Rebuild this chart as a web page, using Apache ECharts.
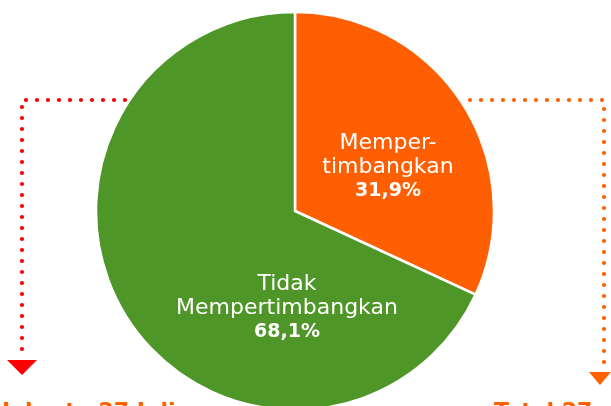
<!DOCTYPE html>
<html>
<head>
<meta charset="utf-8">
<script src="https://cdn.jsdelivr.net/npm/echarts@6/dist/echarts.min.js"></script>
<style>
  html, body { margin: 0; padding: 0; background: #ffffff; }
  #chart { width: 611px; height: 406px; }
</style>
</head>
<body>
<div id="chart"></div>
<script>
// Share of respondents who consider / do not consider
const categories = ['Memper-\ntimbangkan', 'Tidak\nMempertimbangkan'];
const shares = [31.9, 68.1];
const sliceColors = ['#ff5f00', '#4f9628'];
const labelAnchors = [[388, 167], [287, 308]];
const bottomNotes = ['Jakarta 27 Juli', 'Total 27'];

const FONT = '"DejaVu Sans", Inter, sans-serif';
const chart = echarts.init(document.getElementById('chart'), null, { renderer: 'canvas' });

function dottedPath(points, color) {
  return {
    type: 'polyline',
    z: 0,
    shape: { points: points },
    style: { stroke: color, lineWidth: 4.2, lineDash: [0, 11], lineCap: 'round', fill: null }
  };
}
function arrowHead(cx, top, halfW, h, color) {
  return {
    type: 'polygon',
    z: 0,
    shape: { points: [[cx - halfW, top], [cx + halfW, top], [cx, top + h]] },
    style: { fill: color }
  };
}

chart.setOption({
  backgroundColor: '#ffffff',
  animation: false,
  graphic: {
    elements: [
      dottedPath([[125, 100], [22, 100], [22, 350]], '#ff0000'),
      arrowHead(22, 360, 15, 15, '#ff0000'),
      dottedPath([[470, 100], [604, 100], [604, 365]], '#ff6000'),
      arrowHead(600, 372, 11, 13, '#ff6000'),
      {
        type: 'text', z: 0, left: 2, top: 401,
        style: { text: bottomNotes[0], fill: '#ff6000', font: 'bold 22px ' + FONT }
      },
      {
        type: 'text', z: 0, left: 494, top: 401,
        style: { text: bottomNotes[1], fill: '#ff6000', font: 'bold 22px ' + FONT }
      }
    ]
  },
  series: [{
    type: 'pie',
    z: 5,
    center: [295, 211],
    radius: [0, 199],
    startAngle: 90,
    clockwise: true,
    silent: true,
    itemStyle: { borderColor: '#ffffff', borderWidth: 2.5 },
    label: {
      show: true,
      position: 'inside',
      formatter: function (p) {
        return '{n|' + p.name + '}\n{v|' + p.value.toFixed(1).replace('.', ',') + '%}';
      },
      rich: {
        n: { color: '#ffffff', fontFamily: FONT, fontSize: 22, lineHeight: 24, align: 'center' },
        v: { color: '#ffffff', fontFamily: FONT, fontSize: 19, fontWeight: 'bold', lineHeight: 24, align: 'center' }
      }
    },
    labelLine: { show: false },
    labelLayout: function (params) {
      const a = labelAnchors[params.dataIndex];
      return { x: a[0], y: a[1], align: 'center', verticalAlign: 'middle' };
    },
    data: categories.map(function (c, i) {
      return { name: c, value: shares[i], itemStyle: { color: sliceColors[i] } };
    })
  }]
});
</script>
</body>
</html>
